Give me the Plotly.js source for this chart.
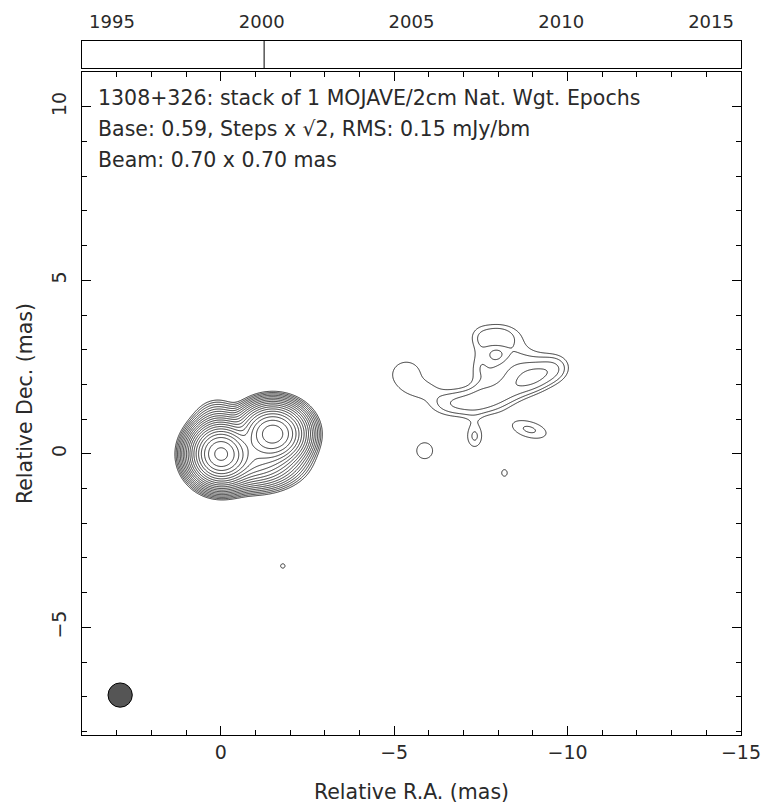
<!DOCTYPE html>
<html>
<head>
<meta charset="utf-8">
<script src="https://cdn.plot.ly/plotly-3.0.1.min.js"></script>
<style>html,body{margin:0;padding:0;background:#fff}</style>
</head>
<body>
<div id="chart" style="width:765px;height:807px"></div>
<script>
// Elliptical Gaussian components of the stacked 15 GHz image (beam-convolved).
// Positions in mas relative to the core, peaks in mJy/beam, widths (sigma) in mas,
// theta = orientation of the major axis in degrees from the +RA direction.
const compName  = ['core', 'knotB', 'bridgeS', 'nwBulge',
                   'jetW1', 'jetW2', 'jetW3', 'jetKnot', 'jetTip',
                   'jetTop', 'jetHole', 'jetNeck', 'jetUpper', 'jetSpur', 'jetSouth',
                   'blobE', 'blobLink', 'blobS', 'speck1', 'speck2'];
const compRA    = [0.00, -1.50, -0.90, 0.10,
                   -6.70, -7.60, -8.40, -9.05, -9.65,
                   -7.95, -8.00, -7.45, -8.30, -7.32, -8.90,
                   -5.35, -5.85, -5.88, -8.18, -1.79];
const compDec   = [0.00, 0.58, -0.20, 0.90,
                   1.45, 1.55, 1.85, 2.20, 2.45,
                   3.40, 2.85, 2.70, 2.55, 0.50, 0.70,
                   2.28, 1.85, 0.09, -0.55, -3.23];
const compPeak  = [330, 190, 35, 3,
                   1.00, 1.05, 0.90, 1.20, 0.90,
                   1.05, -0.30, 0.35, 0.95, 0.88, 0.88,
                   0.73, 0.30, 0.72, 0.62, 0.62];
const compSigX  = [0.37, 0.42, 0.60, 0.35,
                   0.55, 0.50, 0.50, 0.40, 0.35,
                   0.55, 0.20, 0.20, 0.75, 0.22, 0.55,
                   0.60, 0.35, 0.36, 0.25, 0.20];
const compSigY  = [0.37, 0.36, 0.35, 0.35,
                   0.30, 0.30, 0.30, 0.30, 0.30,
                   0.30, 0.20, 0.55, 0.40, 0.32, 0.25,
                   0.55, 0.18, 0.36, 0.30, 0.20];
const compTheta = [0, 0, 0, 0,
                   0, -10, -20, -15, -17,
                   0, 0, 0, -15, 0, 15,
                   0, 0, 0, 0, 0];

// Contour scheme: base level and multiplicative step
const baseLevel = 0.59;          // mJy/beam
const stepFactor = Math.SQRT2;
const nLevels = 26;

// Restoring beam (mas) and where it is drawn
const beamMaj = 0.70, beamMin = 0.70;
const beamRA = 2.90, beamDec = -6.95;

// Observing epochs in the stack
const epochYears = [2000.08];
const yearTicks = [1995, 2000, 2005, 2010, 2015];

// Map sampling grid (mas)
const raStart = 2.6, raEnd = -11.0, decStart = -4.0, decEnd = 4.6, cell = 0.02;

const raGrid = [], decGrid = [];
for (let r = raStart; r >= raEnd; r -= cell) raGrid.push(+r.toFixed(4));
for (let d = decStart; d <= decEnd; d += cell) decGrid.push(+d.toFixed(4));

function brightness(ra, dec) {
  let s = 0;
  for (let i = 0; i < compRA.length; i++) {
    const dx = ra - compRA[i], dy = dec - compDec[i];
    const t = compTheta[i] * Math.PI / 180;
    const u = dx * Math.cos(t) + dy * Math.sin(t);
    const v = -dx * Math.sin(t) + dy * Math.cos(t);
    const q = u * u / (2 * compSigX[i] ** 2) + v * v / (2 * compSigY[i] ** 2);
    if (q < 40) s += compPeak[i] * Math.exp(-q);
  }
  return s;
}

// Express the map in contour-step units so equally spaced levels = x sqrt(2) steps
const lnStep = Math.log(stepFactor);
const zLevel = decGrid.map(d => raGrid.map(r => {
  const b = brightness(r, d);
  return b > 1e-6 ? Math.max(Math.log(b / baseLevel) / lnStep, -6) : -6;
}));

const textFont = {family: 'DejaVu Sans, sans-serif', size: 20.5, color: '#2a2a2a'};
const tickFont = {family: 'DejaVu Sans, sans-serif', size: 19, color: '#2a2a2a'};
const yearFont = {family: 'DejaVu Sans, sans-serif', size: 18, color: '#2a2a2a'};

const traces = [
  {
    type: 'contour', x: raGrid, y: decGrid, z: zLevel,
    xaxis: 'x', yaxis: 'y',
    contours: {start: 0, end: nLevels - 1, size: 1, coloring: 'lines', showlabels: false},
    colorscale: [[0, '#000'], [1, '#000']],
    line: {width: 0.8, smoothing: 0.6},
    showscale: false, hoverinfo: 'skip'
  },
  {
    type: 'scatter', mode: 'lines', xaxis: 'x2', yaxis: 'y2',
    x: epochYears.flatMap(e => [e, e, null]),
    y: epochYears.flatMap(() => [0, 1, null]),
    line: {color: '#000', width: 1}, hoverinfo: 'skip', showlegend: false
  }
];

const axisCommon = {
  showline: true, linecolor: '#000', linewidth: 1, mirror: 'allticks',
  ticks: 'inside', ticklen: 9, tickcolor: '#000', tickwidth: 1,
  showgrid: false, zeroline: false, tickfont: tickFont,
  minor: {dtick: 1, ticks: 'inside', ticklen: 5, tickcolor: '#000', tickwidth: 1}
};

const layout = {
  width: 765, height: 807,
  margin: {l: 82, r: 24, t: 41, b: 72},
  paper_bgcolor: '#fff', plot_bgcolor: '#fff',
  showlegend: false,
  xaxis: Object.assign({}, axisCommon, {
    domain: [0, 1], anchor: 'y', range: [4, -15],
    tickmode: 'linear', tick0: 0, dtick: 5,
    title: {text: 'Relative R.A. (mas)', font: textFont, standoff: 22}
  }),
  yaxis: Object.assign({}, axisCommon, {
    domain: [0, 0.9553], anchor: 'x', range: [-8.1, 11],
    tickmode: 'linear', tick0: 0, dtick: 5, tickangle: -90, ticklabelstandoff: 7,
    title: {text: 'Relative Dec. (mas)', font: textFont, standoff: 10}
  }),
  xaxis2: {
    domain: [0, 1], anchor: 'y2', range: [1994, 2016], side: 'top',
    tickmode: 'array', tickvals: yearTicks, ticks: '', ticklabelstandoff: 5,
    showline: true, linecolor: '#000', linewidth: 1, mirror: true,
    showgrid: false, zeroline: false, tickfont: yearFont
  },
  yaxis2: {
    domain: [0.9611, 1], anchor: 'x2', range: [0, 1],
    showticklabels: false, ticks: '', showline: true, linecolor: '#000',
    linewidth: 1, mirror: true, showgrid: false, zeroline: false
  },
  shapes: [{
    type: 'circle', xref: 'x', yref: 'y',
    x0: beamRA - beamMin / 2, x1: beamRA + beamMin / 2,
    y0: beamDec - beamMaj / 2, y1: beamDec + beamMaj / 2,
    fillcolor: '#555', line: {color: '#000', width: 1}
  }],
  annotations: [
    {text: '1308+326: stack of 1 MOJAVE/2cm Nat. Wgt. Epochs', y: 0.918},
    {text: 'Base: 0.59, Steps x √2, RMS: 0.15 mJy/bm', y: 0.8725},
    {text: 'Beam: 0.70 x 0.70 mas', y: 0.8285}
  ].map(a => Object.assign({
    xref: 'paper', yref: 'paper', x: 0.021, xanchor: 'left', yanchor: 'middle',
    showarrow: false, font: textFont
  }, a))
};

Plotly.newPlot('chart', traces, layout, {staticPlot: true, displayModeBar: false});
</script>
</body>
</html>
